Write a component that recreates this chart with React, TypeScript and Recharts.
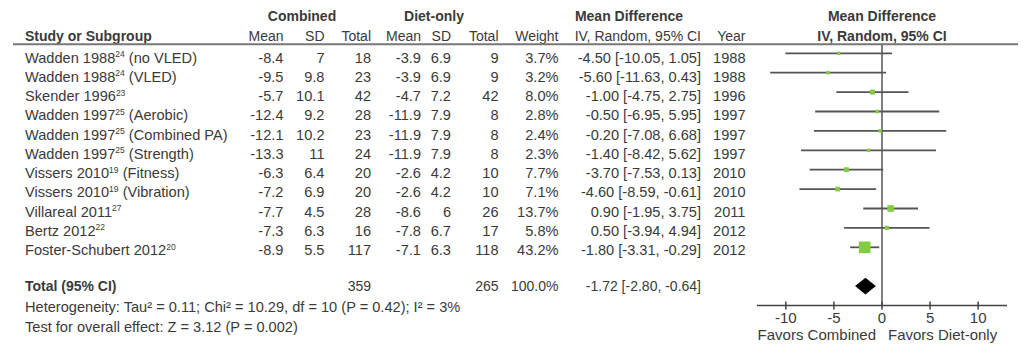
import React from "react";
import { ComposedChart, Scatter, ErrorBar, XAxis, YAxis, ReferenceLine, ReferenceArea } from "recharts";

const studies = ["Wadden 1988", "Wadden 1988", "Skender 1996", "Wadden 1997", "Wadden 1997", "Wadden 1997", "Vissers 2010", "Vissers 2010", "Villareal 2011", "Bertz 2012", "Foster-Schubert 2012"];
const refs = ["24", "24", "23", "25", "25", "25", "19", "19", "27", "22", "20"];
const subgroups = [" (no VLED)", " (VLED)", "", " (Aerobic)", " (Combined PA)", " (Strength)", " (Fitness)", " (Vibration)", "", "", ""];
const combMean = [-8.4, -9.5, -5.7, -12.4, -12.1, -13.3, -6.3, -7.2, -7.7, -7.3, -8.9];
const combSD = [7, 9.8, 10.1, 9.2, 10.2, 11, 6.4, 6.9, 4.5, 6.3, 5.5];
const combTotal = [18, 23, 42, 28, 23, 24, 20, 20, 28, 16, 117];
const dietMean = [-3.9, -3.9, -4.7, -11.9, -11.9, -11.9, -2.6, -2.6, -8.6, -7.8, -7.1];
const dietSD = [6.9, 6.9, 7.2, 7.9, 7.9, 7.9, 4.2, 4.2, 6, 6.7, 6.3];
const dietTotal = [9, 9, 42, 8, 8, 8, 10, 10, 26, 17, 118];
const weights = [3.7, 3.2, 8.0, 2.8, 2.4, 2.3, 7.7, 7.1, 13.7, 5.8, 43.2];
const md = [-4.5, -5.6, -1.0, -0.5, -0.2, -1.4, -3.7, -4.6, 0.9, 0.5, -1.8];
const ciLow = [-10.05, -11.63, -4.75, -6.95, -7.08, -8.42, -7.53, -8.59, -1.95, -3.94, -3.31];
const ciHigh = [1.05, 0.43, 2.75, 5.95, 6.68, 5.62, 0.13, -0.61, 3.75, 4.94, -0.29];
const years = [1988, 1988, 1996, 1997, 1997, 1997, 2010, 2010, 2011, 2012, 2012];

const total = { combined: 359, diet: 265, weight: 100, md: -1.72, lo: -2.8, hi: -0.64 };
const xTicks = [-10, -5, 0, 5, 10];

const FONT = "'Liberation Sans', Arial, sans-serif";
const TXT = "#3a3a3a";
const GREEN = "#84cc3f";

const points = md.map((m, i) => ({
  x: m,
  y: i,
  w: weights[i],
  err: [m - ciLow[i], ciHigh[i] - m],
}));

const rowY = (i: number) => 62.7 + 19.25 * i;
const fmt2 = (v: number) => v.toFixed(2);
const ciText = (m: number, lo: number, hi: number) => `${fmt2(m)} [${fmt2(lo)}, ${fmt2(hi)}]`;

// right edges of the numeric columns
const cols = { cMean: 283.5, cSD: 324.5, cTot: 371, dMean: 421, dSD: 451, dTot: 498.5, weight: 558.5, ci: 701, year: 745.5 };

const Square = (props: any) => {
  const { cx, cy, payload } = props;
  const s = Math.max(3.5, 1.77 * Math.sqrt(payload.w));
  return <rect x={cx - s / 2} y={cy - s / 2} width={s} height={s} fill={GREEN} />;
};

const Diamond = (props: any) => {
  const { x, y, width, height } = props;
  const f = (total.md - total.lo) / (total.hi - total.lo);
  const ax = x + width * f;
  const my = y + height / 2;
  return <polygon points={`${x},${my} ${ax},${y} ${x + width},${my} ${ax},${y + height}`} fill="#000" />;
};

const Tick = (props: any) => {
  const { x, y, payload } = props;
  return (
    <g>
      <line x1={x} x2={x} y1={y - 8} y2={y} stroke="#444" strokeWidth={1.5} />
      <text x={x} y={y + 13.5} textAnchor="middle" fontSize={15} fontFamily={FONT} fill={TXT}>
        {payload.value}
      </text>
    </g>
  );
};

const R = (x: number, y: number, s: string | number, bold = false) => (
  <text x={x} y={y} textAnchor="end" fontWeight={bold ? "bold" : "normal"}>{s}</text>
);

const Table = () => (
  <svg width={1024} height={352} style={{ position: "absolute", left: 0, top: 0 }} fontFamily={FONT} fontSize={14.6} fill={TXT}>
    <g fontWeight="bold" fontSize={14}>
      <text x={302} y={20.7} textAnchor="middle">Combined</text>
      <text x={434} y={20.7} textAnchor="middle">Diet-only</text>
      <text x={629} y={20.7} textAnchor="middle">Mean Difference</text>
      <text x={882} y={20.7} textAnchor="middle">Mean Difference</text>
      <text x={25} y={40.5}>Study or Subgroup</text>
      {R(cols.cMean, 40.5, "Mean")}
      {R(cols.cSD, 40.5, "SD")}
      {R(cols.cTot, 40.5, "Total")}
      {R(cols.dMean, 40.5, "Mean")}
      {R(cols.dSD, 40.5, "SD")}
      {R(cols.dTot, 40.5, "Total")}
      {R(cols.weight, 40.5, "Weight")}
      {R(cols.ci, 40.5, "IV, Random, 95% CI")}
      {R(cols.year, 40.5, "Year")}
      <text x={882} y={40.5} textAnchor="middle">IV, Random, 95% CI</text>
    </g>
    <line x1={13} x2={1018} y1={44.3} y2={44.3} stroke="#777" strokeWidth={2} />
    {studies.map((s, i) => (
      <g key={i}>
        <text x={25} y={rowY(i)}>
          {s}
          <tspan dy={-5.5} fontSize={8.5}>{refs[i]}</tspan>
          <tspan dy={5.5}>{subgroups[i]}</tspan>
        </text>
        {R(cols.cMean, rowY(i), combMean[i])}
        {R(cols.cSD, rowY(i), combSD[i])}
        {R(cols.cTot, rowY(i), combTotal[i])}
        {R(cols.dMean, rowY(i), dietMean[i])}
        {R(cols.dSD, rowY(i), dietSD[i])}
        {R(cols.dTot, rowY(i), dietTotal[i])}
        {R(cols.weight, rowY(i), weights[i].toFixed(1) + "%")}
        {R(cols.ci, rowY(i), ciText(md[i], ciLow[i], ciHigh[i]))}
        {R(cols.year, rowY(i), years[i])}
      </g>
    ))}
    <g fontWeight="bold" fontSize={14}>
      <text x={25} y={291.2}>Total (95% CI)</text>
      {R(cols.cTot, 291.2, total.combined)}
      {R(cols.dTot, 291.2, total.diet)}
      {R(cols.weight, 291.2, total.weight.toFixed(1) + "%")}
      {R(cols.ci, 291.2, ciText(total.md, total.lo, total.hi))}
    </g>
    <text x={25} y={312}>Heterogeneity: Tau² = 0.11; Chi² = 10.29, df = 10 (P = 0.42); I² = 3%</text>
    <text x={25} y={332}>Test for overall effect: Z = 3.12 (P = 0.002)</text>
    <g fontSize={15}>
      <text x={876} y={339.5} textAnchor="end">Favors Combined</text>
      <text x={888} y={339.5}>Favors Diet-only</text>
    </g>
  </svg>
);

export default function App() {
  return (
    <div style={{ position: "absolute", left: 0, top: 0, width: 1024, height: 352, background: "#fff" }}>
      <div style={{ position: "absolute", left: 0, top: 0 }}>
        <ComposedChart width={1024} height={352} margin={{ top: 43.6, right: 17, bottom: 16.5, left: 757 }}>
          <XAxis
            type="number"
            dataKey="x"
            domain={[-13, 13]}
            allowDataOverflow
            ticks={xTicks}
            tickSize={4}
            tickMargin={0}
            tickLine={false}
            tick={<Tick />}
            height={30}
            axisLine={{ stroke: "#444", strokeWidth: 1.5 }}
          />
          <YAxis type="number" dataKey="y" domain={[-0.5, 13]} reversed hide width={0} />
          <ReferenceLine x={0} stroke="#555" strokeWidth={1.5} />
          <Scatter data={points} isAnimationActive={false} shape={<Square />}>
            <ErrorBar dataKey="err" direction="x" width={0} stroke="#555" strokeWidth={1.8} />
          </Scatter>
          <ReferenceArea x1={total.lo} x2={total.hi} y1={11.57} y2={12.43} shape={<Diamond />} ifOverflow="visible" />
        </ComposedChart>
      </div>
      <Table />
    </div>
  );
}
